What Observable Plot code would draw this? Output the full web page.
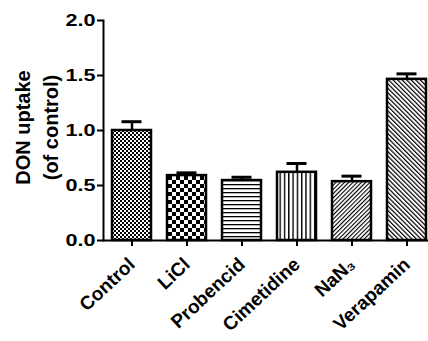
<!DOCTYPE html>
<html><head><meta charset="utf-8">
<script src="https://cdn.jsdelivr.net/npm/d3@7"></script>
<script src="https://cdn.jsdelivr.net/npm/@observablehq/plot@0.6"></script>
<style>body{margin:0;background:#fff}</style>
</head><body><div id="chart"></div>
<script>
const categories = ["Control", "LiCl", "Probencid", "Cimetidine", "NaN₃", "Verapamin"];
const means = [1.0, 0.59, 0.545, 0.62, 0.535, 1.465];
const sems = [0.08, 0.025, 0.03, 0.08, 0.05, 0.05];
const patterns = ["fineChecker", "checker", "hLines", "vLines", "diagUp", "diagDown"];
const yTicks = [0, 0.5, 1, 1.5, 2];
const yTitle = "DON uptake\n(of control)";

const data = categories.map((c, i) => ({cat: c, mean: means[i], top: means[i] + sems[i], pat: patterns[i]}));
const font = "'Liberation Sans', Arial, sans-serif";

const plot = Plot.plot({
  width: 428, height: 341,
  marginLeft: 103, marginTop: 20, marginBottom: 101, marginRight: 0,
  x: {domain: categories, range: [103, 435], paddingInner: 0.3, paddingOuter: 0.157, label: null},
  y: {domain: [0, 2], label: null},
  color: {type: "ordinal", domain: patterns, range: patterns.map(p => `url(#${p})`)},
  style: {fontFamily: font, fontSize: "17px", fontWeight: "bold", color: "black", background: "white"},
  marks: [
    Plot.barY(data, {x: "cat", y: "mean", fill: "pat", stroke: "black", strokeWidth: 2.5}),
    Plot.ruleX(data, {x: "cat", y1: "mean", y2: "top", strokeWidth: 2.5}),
    Plot.tickY(data, {x: "cat", y: "top", strokeWidth: 3, insetLeft: 9.5, insetRight: 9.5}),
    Plot.ruleY([0], {strokeWidth: 2}),
    Plot.frame({anchor: "left", strokeWidth: 2}),
    Plot.axisY({ticks: yTicks, tickFormat: d3.format(".1f"), tickSize: 6, tickPadding: 2, strokeWidth: 2, label: null, fontSize: 16}),
    Plot.axisX({tickRotate: -43, tickSize: 6, tickPadding: 15, strokeWidth: 2, label: null, fontSize: 19}),
    Plot.text([yTitle], {frameAnchor: "left", textAnchor: "middle", lineAnchor: "middle", rotate: -90, dx: -68, dy: -3, fontSize: 20, fontWeight: "bold", lineHeight: 1.4})
  ]
});

const ns = "http://www.w3.org/2000/svg";
const defs = document.createElementNS(ns, "defs");
defs.innerHTML = `
<pattern id="fineChecker" width="4" height="4" patternUnits="userSpaceOnUse">
  <rect width="4" height="4" fill="white"/><rect width="2" height="2" fill="black"/><rect x="2" y="2" width="2" height="2" fill="black"/>
</pattern>
<pattern id="checker" width="8" height="8" patternUnits="userSpaceOnUse">
  <rect width="8" height="8" fill="white"/><rect width="4" height="4" fill="black"/><rect x="4" y="4" width="4" height="4" fill="black"/>
</pattern>
<pattern id="hLines" width="4" height="4" patternUnits="userSpaceOnUse">
  <rect width="4" height="4" fill="white"/><rect y="0" width="4" height="1.3" fill="black"/>
</pattern>
<pattern id="vLines" width="4.3" height="4" patternUnits="userSpaceOnUse">
  <rect width="4.3" height="4" fill="white"/><rect x="0" width="1.4" height="4" fill="black"/>
</pattern>
<pattern id="diagUp" width="3" height="3" patternUnits="userSpaceOnUse" patternTransform="rotate(45)">
  <rect width="3" height="3" fill="white"/><rect width="1.1" height="3" fill="black"/>
</pattern>
<pattern id="diagDown" width="3.2" height="3.2" patternUnits="userSpaceOnUse" patternTransform="rotate(-45)">
  <rect width="3.2" height="3.2" fill="white"/><rect width="1.2" height="3.2" fill="black"/>
</pattern>`;
plot.insertBefore(defs, plot.firstChild);

// widen y tick labels horizontally like the original export
plot.querySelectorAll('g[aria-label="y-axis tick label"] text').forEach(t => {
  t.setAttribute("transform", (t.getAttribute("transform") || "") + " scale(1.35,1)");
});
document.getElementById("chart").appendChild(plot);
</script>
</body></html>
